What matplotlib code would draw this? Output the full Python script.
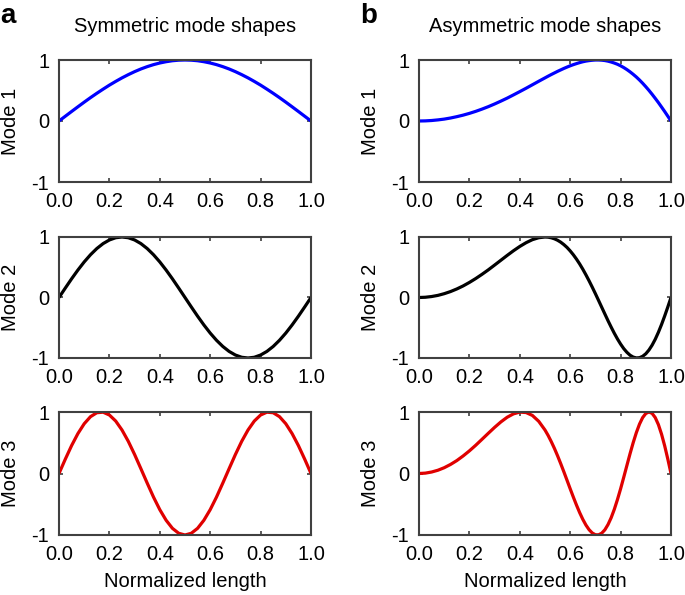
import matplotlib
matplotlib.use("Agg")
import matplotlib.pyplot as plt

plt.rcParams['font.family'] = ['Liberation Sans', 'DejaVu Sans']
plt.rcParams['axes.unicode_minus'] = False

# ---- data ----
x_sym = [0.0, 0.025, 0.05, 0.075, 0.1, 0.125, 0.15, 0.175, 0.2, 0.225, 0.25,
         0.275, 0.3, 0.325, 0.35, 0.375, 0.4, 0.425, 0.45, 0.475, 0.5,
         0.525, 0.55, 0.575, 0.6, 0.625, 0.65, 0.675, 0.7, 0.725, 0.75,
         0.775, 0.8, 0.825, 0.85, 0.875, 0.9, 0.925, 0.95, 0.975, 1.0]

sym_mode1 = [0, .078, .156, .233, .309, .383, .454, .522, .588, .649, .707,
             .760, .809, .853, .891, .924, .951, .972, .988, .997, 1.0,
             .997, .988, .972, .951, .924, .891, .853, .809, .760, .707,
             .649, .588, .522, .454, .383, .309, .233, .156, .078, 0]
sym_mode2 = [0, .156, .309, .454, .588, .707, .809, .891, .951, .988, 1.0,
             .988, .951, .891, .809, .707, .588, .454, .309, .156, 0,
             -.156, -.309, -.454, -.588, -.707, -.809, -.891, -.951, -.988, -1.0,
             -.988, -.951, -.891, -.809, -.707, -.588, -.454, -.309, -.156, 0]
sym_mode3 = [0, .233, .454, .649, .809, .924, .988, .997, .951, .853, .707,
             .523, .309, .078, -.156, -.383, -.588, -.760, -.891, -.972, -1.0,
             -.972, -.891, -.760, -.588, -.383, -.156, .078, .309, .523, .707,
             .853, .951, .997, .988, .924, .809, .649, .454, .233, 0]

x_asym = [0.0, 0.025, 0.05, 0.075, 0.1, 0.125, 0.15, 0.175, 0.2, 0.225, 0.25,
          0.275, 0.3, 0.325, 0.35, 0.375, 0.4, 0.425, 0.45, 0.475, 0.5,
          0.5125, 0.525, 0.5375, 0.55, 0.5625, 0.575, 0.5875, 0.6, 0.6125, 0.625,
          0.6375, 0.65, 0.6625, 0.675, 0.6875, 0.7, 0.7125, 0.725, 0.7375, 0.75,
          0.7625, 0.775, 0.7875, 0.8, 0.8125, 0.825, 0.8375, 0.85, 0.8625, 0.875,
          0.8875, 0.9, 0.9125, 0.925, 0.9375, 0.95, 0.9625, 0.975, 0.9875, 1.0]

asym_mode1 = [0, .002, .008, .018, .031, .049, .071, .096, .125, .158, .195,
              .235, .279, .326, .375, .428, .482, .537, .594, .651, .707,
              .735, .762, .788, .814, .838, .862, .884, .905, .924, .941,
              .957, .971, .982, .990, .996, 1.0, 1.0, .997, .991, .981,
              .967, .950, .930, .905, .876, .843, .806, .765, .721, .672,
              .619, .562, .502, .438, .371, .302, .229, .155, .078, 0]
asym_mode2 = [0, .004, .016, .035, .063, .098, .141, .191, .249, .313, .383,
              .457, .536, .616, .696, .773, .844, .906, .956, .988, 1.0,
              .997, .987, .970, .946, .914, .874, .827, .770, .706, .634,
              .555, .468, .374, .275, .171, .063, -.048, -.160, -.272, -.383,
              -.489, -.591, -.685, -.770, -.845, -.906, -.954, -.985, -.999, -.995,
              -.972, -.930, -.868, -.788, -.690, -.575, -.446, -.305, -.155, 0]
asym_mode3 = [0, .006, .024, .053, .094, .147, .210, .285, .368, .459, .556,
              .654, .750, .839, .915, .970, .998, .991, .944, .849, .707,
              .618, .517, .407, .287, .159, .026, -.111, -.249, -.384, -.514,
              -.636, -.745, -.839, -.914, -.967, -.996, -.997, -.971, -.916, -.831,
              -.720, -.583, -.424, -.249, -.061, .131, .322, .502, .665, .803,
              .909, .976, 1.0, .978, .909, .795, .639, .449, .232, 0]

x_ticks = [0.0, 0.2, 0.4, 0.6, 0.8, 1.0]
x_ticklabels = ['0.0', '0.2', '0.4', '0.6', '0.8', '1.0']
y_ticks = [-1, 0, 1]
y_ticklabels = ['-1', '0', '1']
row_labels = ['Mode 1', 'Mode 2', 'Mode 3']
col_titles = ['Symmetric mode shapes', 'Asymmetric mode shapes']
panel_letters = ['a', 'b']
colors = ['#0000ff', '#000000', '#e00000']

# ---- figure ----
W, H = 685, 595
fig = plt.figure(figsize=(W / 100, H / 100), dpi=100)

col_left = [59 / W, 419 / W]
ax_w = 252 / W
row_top = [60, 237, 412]
row_bot = [182, 358, 535]

series = [[sym_mode1, sym_mode2, sym_mode3], [asym_mode1, asym_mode2, asym_mode3]]
xs = [x_sym, x_asym]
spine_col = '#404040'

for c in range(2):
    for r in range(3):
        ax = fig.add_axes([col_left[c], 1 - row_bot[r] / H, ax_w,
                           (row_bot[r] - row_top[r]) / H])
        ax.plot(xs[c], series[c][r], color=colors[r], lw=2.3,
                solid_capstyle='butt')
        ax.set_xlim(0, 1)
        ax.set_ylim(-1, 1)
        ax.set_xticks(x_ticks)
        ax.set_xticklabels(x_ticklabels)
        ax.set_yticks(y_ticks)
        ax.set_yticklabels(y_ticklabels)
        ax.tick_params(direction='in', top=True, right=True, length=3,
                       width=1.2, color=spine_col, labelsize=14.5, pad=7)
        ax.tick_params(axis='y', pad=7)
        for s in ax.spines.values():
            s.set_color(spine_col)
            s.set_linewidth(1.5)
        ax.set_ylabel(row_labels[r], fontsize=14.5, labelpad=8)
        if r == 0:
            ax.set_title(col_titles[c], fontsize=14.5, pad=20)
        if r == 2:
            ax.set_xlabel('Normalized length', fontsize=14.5, labelpad=6)

fig.text(0 / W, 1 - 23 / H, panel_letters[0], fontsize=20, fontweight='bold',
         ha='left', va='baseline')
fig.text(360 / W, 1 - 23 / H, panel_letters[1], fontsize=20, fontweight='bold',
         ha='left', va='baseline')

fig.savefig('out.png', dpi=100)
